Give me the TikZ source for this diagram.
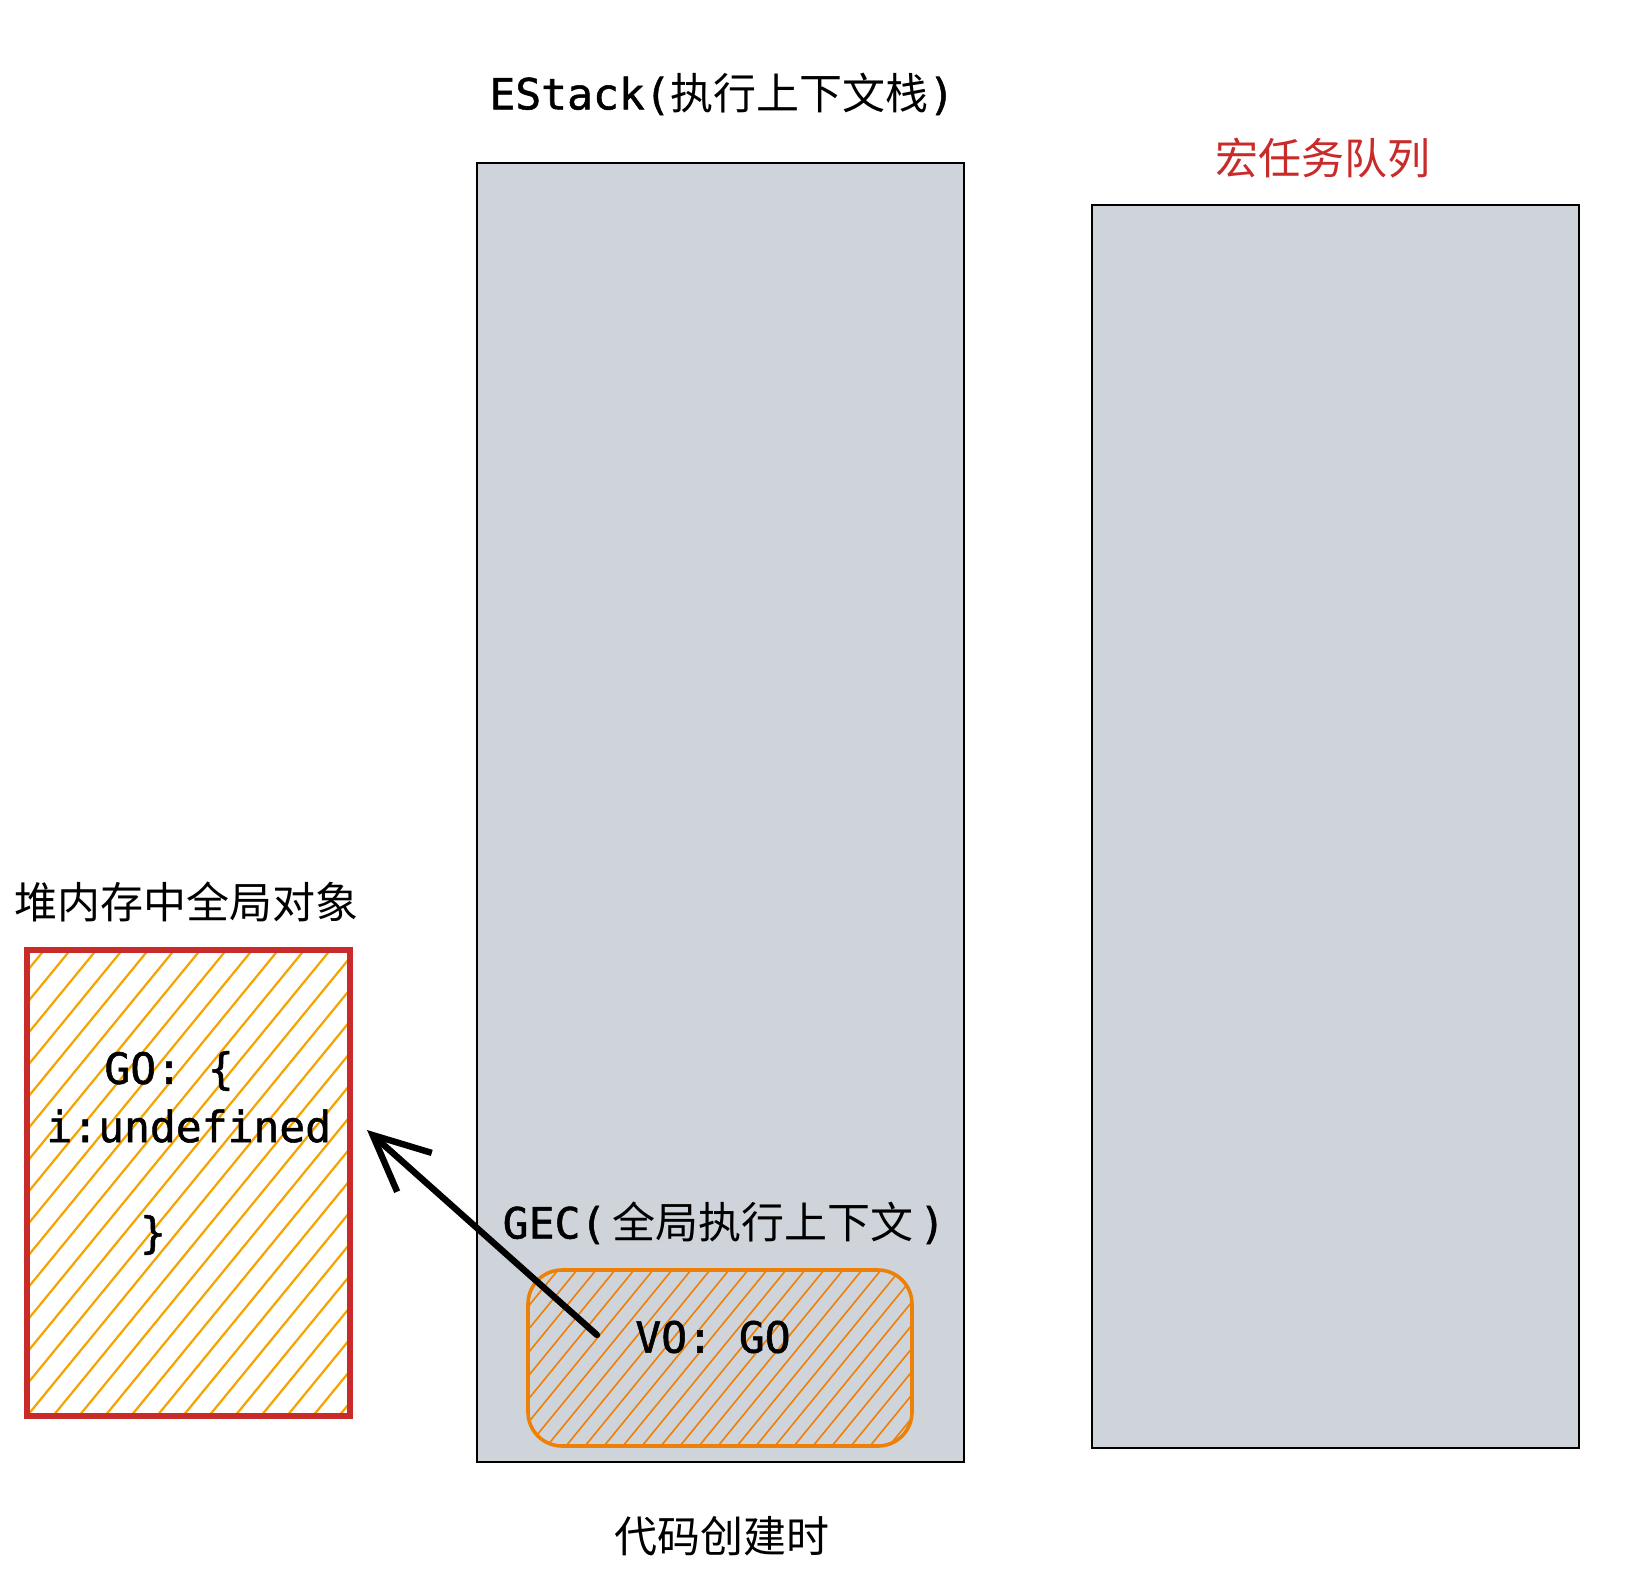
\documentclass[tikz,border=0pt]{standalone}
\usepackage{fontspec}
\newfontfamily\cjk{Noto Sans CJK SC}
\newfontfamily\mono[FakeBold=1.2]{DejaVu Sans Mono}
\usepackage{xcolor}
\usetikzlibrary{arrows.meta,calc,positioning}
\definecolor{stackgray}{HTML}{CED4DA}
\definecolor{taskred}{HTML}{C92A2A}
\definecolor{hatchyellow}{HTML}{F5A300}
\definecolor{voorange}{HTML}{EE8008}
\tikzset{
  hatch/.style n args={3}{path picture={
    \foreach \k in {-45,...,45}
      \draw[#1,line width=#3] ($(path picture bounding box.south west)+(\k*#2,0)$) -- ++(270pt,330pt);}},
  stackcol/.style={draw=black,line width=0.8pt,fill=stackgray,inner sep=0pt},
  heapbox/.style={draw=taskred,line width=3pt,hatch={hatchyellow}{13pt}{1.1pt},inner sep=0pt},
  vobox/.style={draw=voorange,line width=1.8pt,rounded corners=17pt,hatch={voorange}{9.5pt}{0.8pt},inner sep=0pt},
  lbl/.style={inner sep=0pt,font=\fontsize{21.5pt}{26pt}\selectfont}
}

\begin{document}
\begin{tikzpicture}[x=0.5pt,y=-0.5pt]
  \useasboundingbox (0,0) rectangle (1630,1580);
  \node[stackcol,minimum width=243.5pt,minimum height=649.5pt] (estack) at (720.5,812.5) {};
  \node[stackcol,minimum width=243.5pt,minimum height=621.5pt] (queue) at (1335.5,826.5) {};
  \node[heapbox,minimum width=161.5pt,minimum height=233pt] (heap) at (188.5,1183) {};
  \node[vobox,minimum width=192pt,minimum height=88pt] (vo) at (720,1358) {};
  % titles
  \node[lbl] (estack-title) at (722,94) {\mono EStack(\cjk 执行上下文栈\mono )};
  \node[lbl,text=taskred] (queue-title) at (1323,158) {\cjk 宏任务队列};
  \node[lbl] (heap-title) at (187,902) {\cjk 堆内存中全局对象};
  \node[lbl] (gec-title) at (724,1223) {\mono GEC(\hspace{3pt}\cjk 全局执行上下文\hspace{3pt}\mono )};
  \node[lbl] (time-caption) at (722,1536) {\cjk 代码创建时};
  % object contents
  \node[lbl,anchor=west] (go-open) at (104,1071) {\mono GO: \{};
  \node[lbl,anchor=west] (go-field) at (46,1126) {\mono i:undefined};
  \node[lbl] (go-close) at (153,1235) {\mono \}};
  \node[lbl] (vo-label) at (713,1337) {\mono VO: GO};
  \coordinate (ptr-tail) at (597,1335);
  \coordinate (ptr-head) at (367,1130);
  \draw[line width=3.2pt,line cap=round,-{Straight Barb[length=28pt,width=26pt]}] (ptr-tail) -- (ptr-head);
\end{tikzpicture}
\end{document}
